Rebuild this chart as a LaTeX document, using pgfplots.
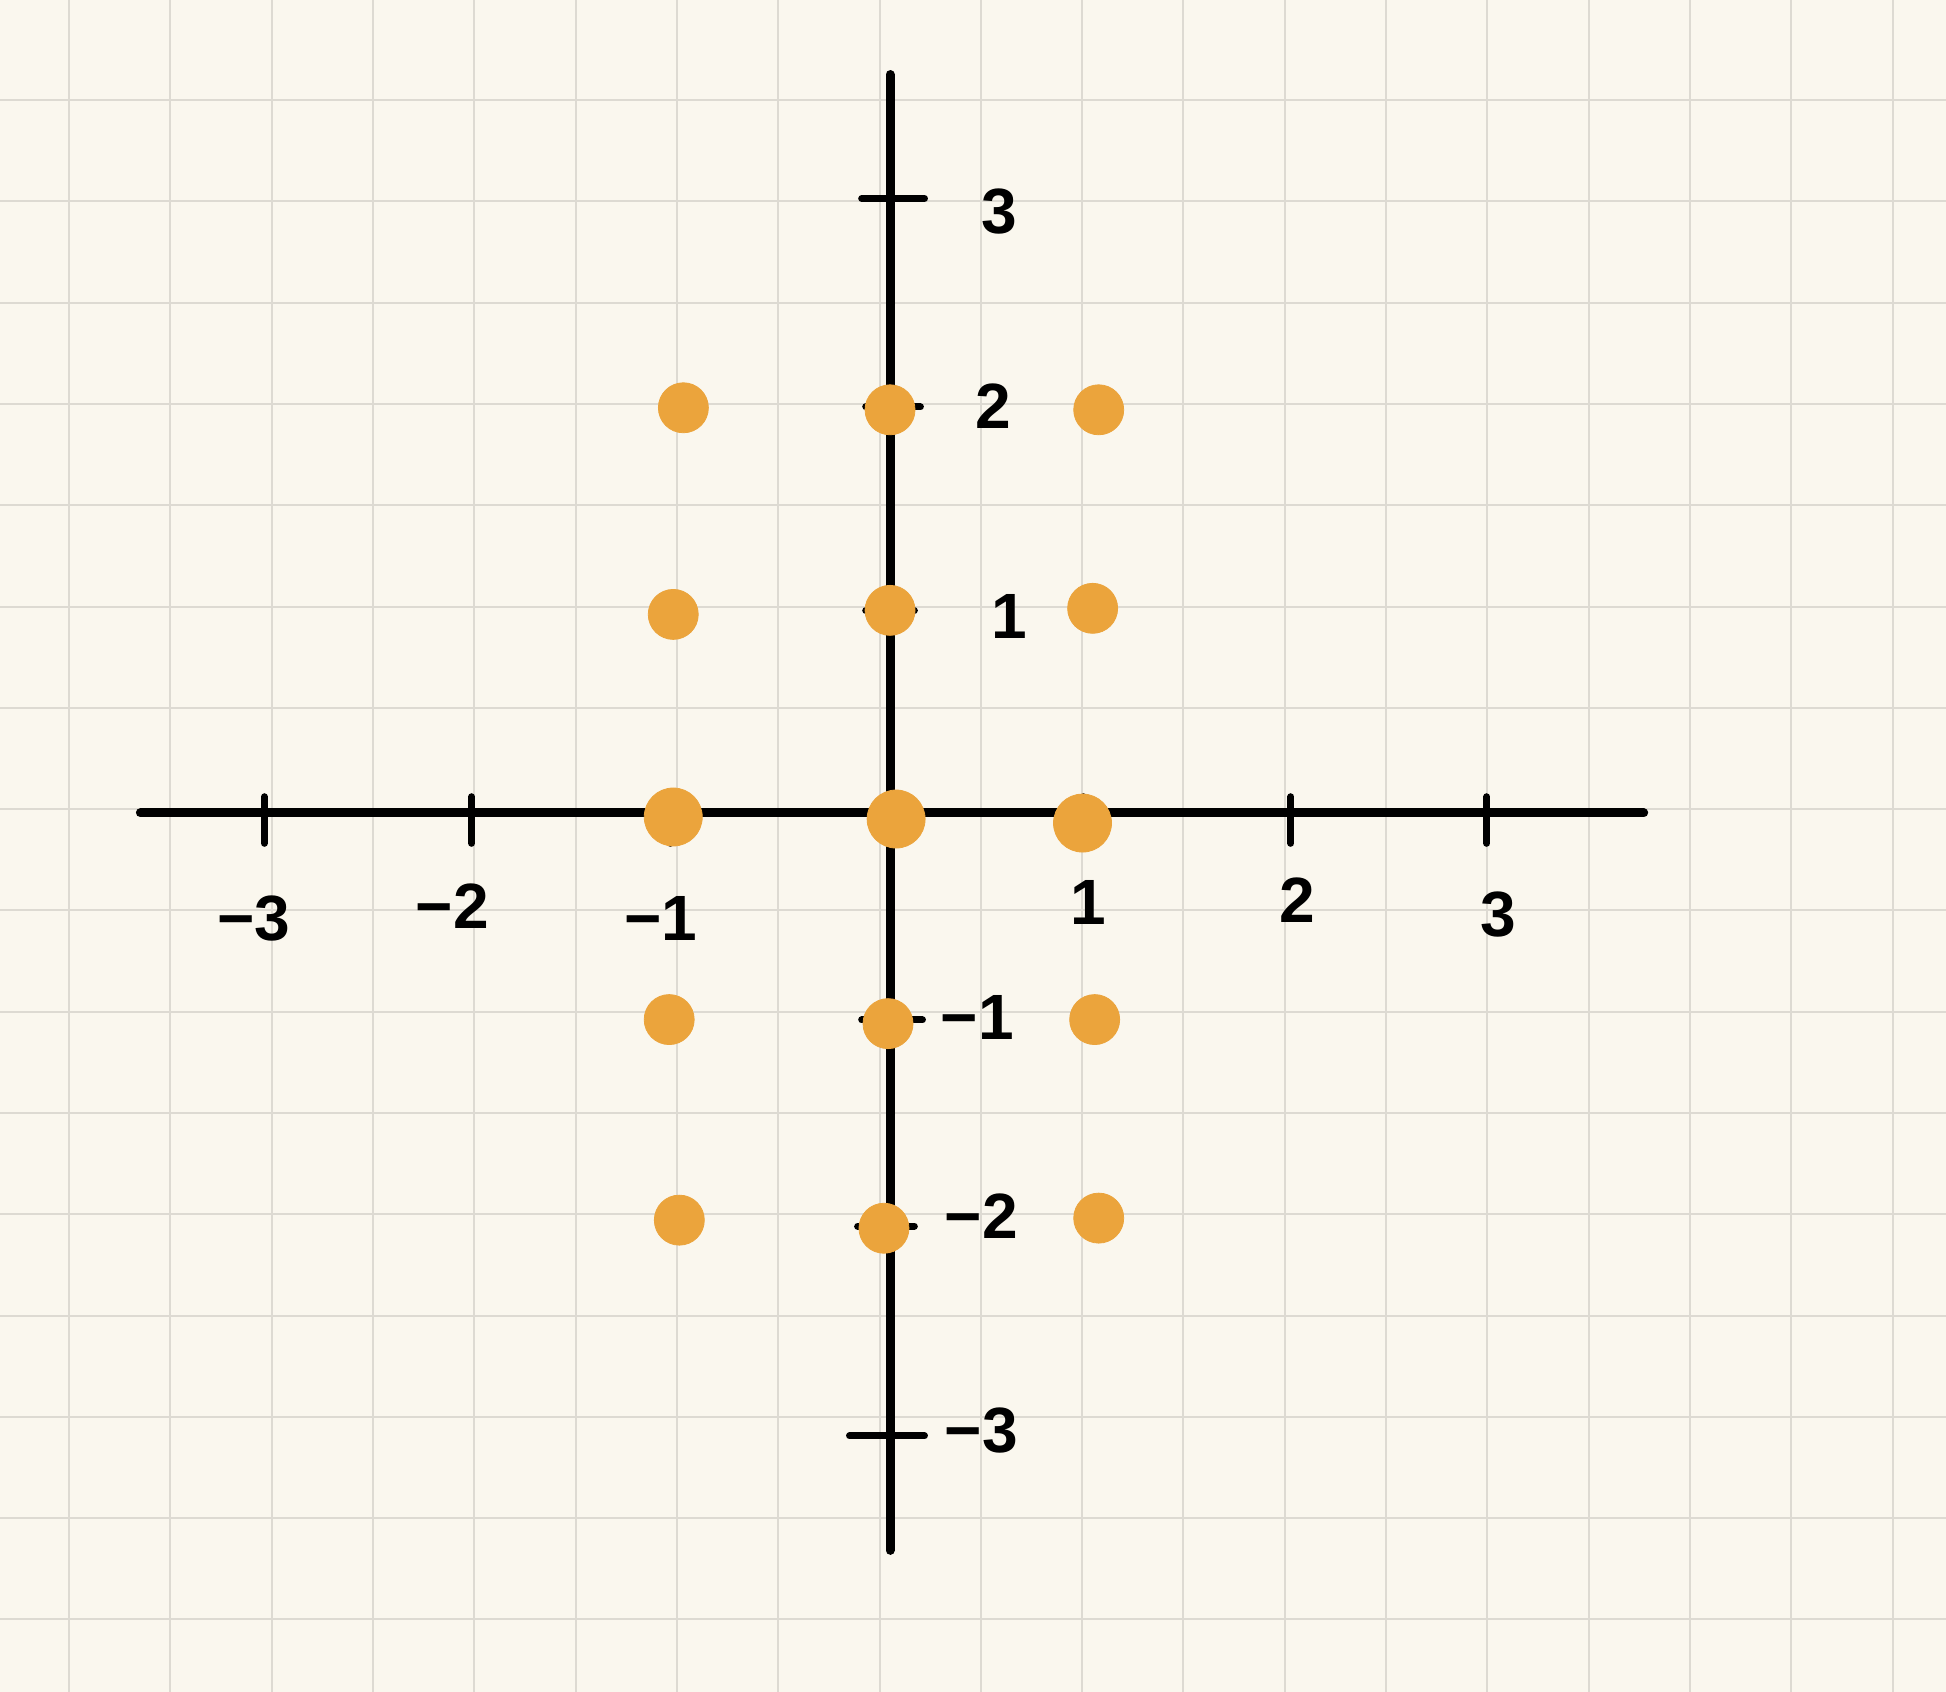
\documentclass[border=0pt]{standalone}
\usepackage{pgfplots}
\pgfplotsset{compat=1.18}
\usepackage{fontspec}
\setmainfont{Liberation Sans}
\definecolor{paper}{HTML}{FAF7EE}
\definecolor{gridc}{HTML}{DDDAD2}
\definecolor{dotc}{HTML}{EBA43C}
\begin{document}
\begin{tikzpicture}
\begin{axis}[
  scale only axis, width=973pt, height=846pt,
  xmin=-4.393, xmax=5.212, ymin=-4.339, ymax=4.013,
  axis line style={draw=none},
  axis background/.style={fill=paper},
  xtick={-4.052,-3.552,...,5.0}, ytick={-3.981,-3.481,...,3.6},
  xticklabels={}, yticklabels={},
  major tick length=0pt,
  grid=major, major grid style={gridc, line width=1.0pt},
  unbounded coords=jump,
  clip=false,
]
% axes
\addplot[black, line width=4.5pt, line cap=round] coordinates {(-3.70,0) (3.72,0)};
\addplot[black, line width=4.5pt, line cap=round] coordinates {(0,3.645) (0,-3.64)};
% x ticks
\addplot[black, line width=3.5pt, line cap=round] coordinates {
 (-3.088,0.08) (-3.088,-0.15) (0,nan)
 (-2.065,0.08) (-2.065,-0.15) (0,nan)
 (-1.086,0.08) (-1.086,-0.15) (0,nan)
 (0.953,0.08) (0.953,-0.15) (0,nan)
 (1.978,0.08) (1.978,-0.15) (0,nan)
 (2.945,0.08) (2.945,-0.15)};
% y ticks
\addplot[black, line width=3.5pt, line cap=round] coordinates {
 (-0.14,3.033) (0.17,3.033) (0,nan)
 (-0.12,2.004) (0.15,2.004) (0,nan)
 (-0.12,0.999) (0.12,0.999) (0,nan)
 (-0.14,-1.022) (0.16,-1.022) (0,nan)
 (-0.16,-2.04) (0.12,-2.04) (0,nan)
 (-0.2,-3.075) (0.17,-3.075)};
% labels
\begin{scope}[every node/.style={font=\fontsize{32}{36}\selectfont\bfseries, inner sep=0pt}]
\node at (axis cs:-3.14,-0.52) {−3};
\node at (axis cs:-2.16,-0.46) {−2};
\node at (axis cs:-1.13,-0.52) {−1};
\node at (axis cs:0.98,-0.44) {1};
\node at (axis cs:2.01,-0.43) {2};
\node at (axis cs:3.0,-0.50) {3};
\node at (axis cs:0.54,2.97) {3};
\node at (axis cs:0.51,2.01) {2};
\node at (axis cs:0.59,0.97) {1};
\node at (axis cs:0.43,-1.01) {−1};
\node at (axis cs:0.45,-1.99) {−2};
\node at (axis cs:0.45,-3.05) {−3};
\end{scope}
% points
\addplot[only marks, mark=*, mark size=12.5pt, mark options={fill=dotc, draw=dotc}] coordinates {
 (-1.02,2.00) (0.0,1.99) (1.03,1.99)
 (-1.07,0.98) (0,1.0) (1.0,1.01)
 (-1.09,-1.02) (-0.01,-1.04) (1.01,-1.02)
 (-1.04,-2.01) (-0.03,-2.05) (1.03,-2.0)};
\addplot[only marks, mark=*, mark size=14.5pt, mark options={fill=dotc, draw=dotc}] coordinates {
 (-1.07,-0.02) (0.03,-0.03) (0.95,-0.05)};
\coordinate (SW) at (rel axis cs:0,0);
\coordinate (NE) at (rel axis cs:1,1);
\end{axis}
\pgfresetboundingbox
\path[use as bounding box] (SW) rectangle (NE);
\end{tikzpicture}
\end{document}
